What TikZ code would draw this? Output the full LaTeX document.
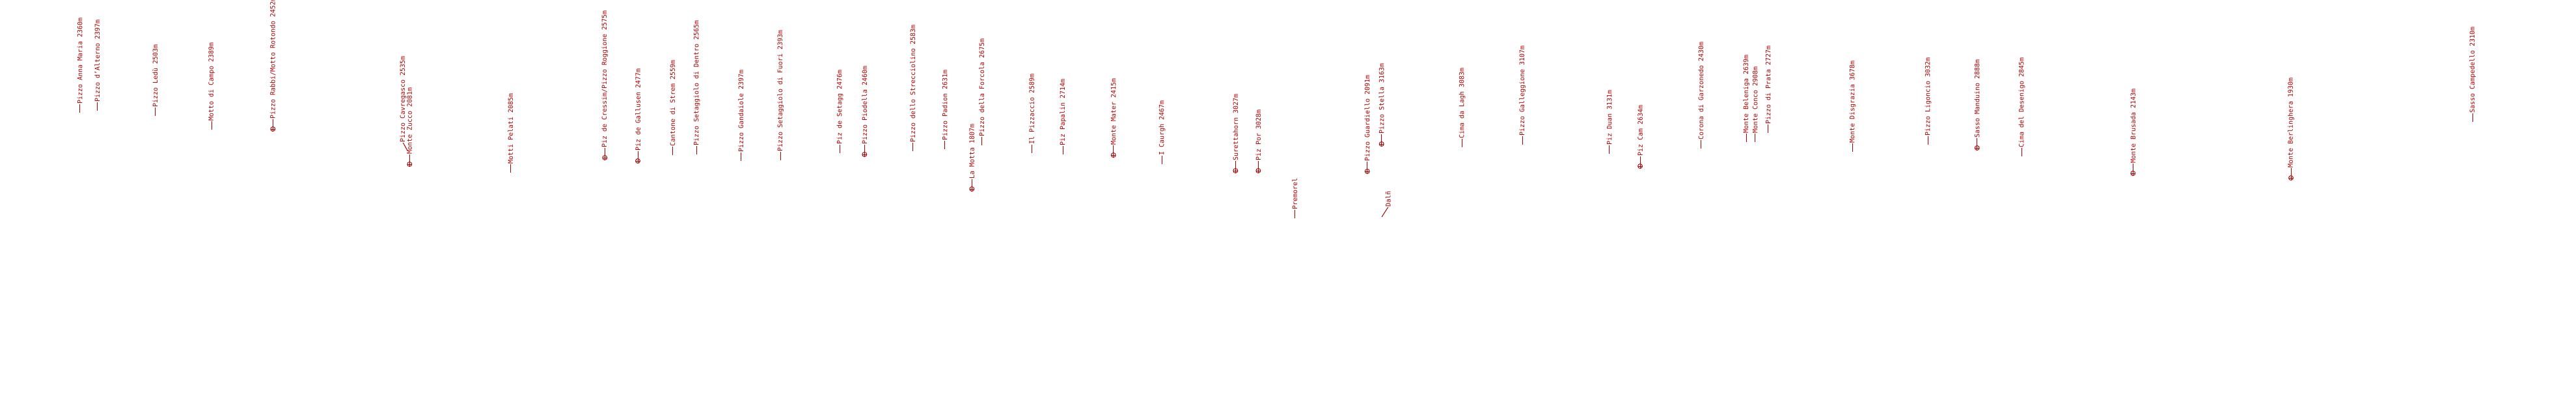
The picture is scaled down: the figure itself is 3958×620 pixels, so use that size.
\documentclass[tikz,border=0pt]{standalone}
\usepackage{fontspec}
\newfontfamily\peakfont{DejaVu Sans Mono}
\definecolor{PeakRed}{RGB}{170,0,0}
\tikzset{
  peaklabel/.style={rotate=90,anchor=west,inner sep=0pt,text=PeakRed,font=\peakfont\fontsize{10}{10}\selectfont},
  leader/.style={draw=PeakRed,line width=1pt},
  target/.style={circle,draw=PeakRed,line width=0.9pt,minimum size=7pt,inner sep=0pt,
    path picture={\draw[PeakRed,line width=0.8pt] (path picture bounding box.north) -- (path picture bounding box.south) (path picture bounding box.west) -- (path picture bounding box.east);}},
}
\begin{document}
\begin{tikzpicture}[x=1pt,y=-1pt]
\useasboundingbox (0,0) rectangle (3958,620);
% summits with a plain tick
\foreach \px/\py/\ptext [count=\i] in {122.7/173/{Pizzo Anna Maria 2360m},149.3/170/{Pizzo d’Alterno 2397m},238.3/178/{Pizzo Ledù 2503m},325/199/{Motto di Campo 2389m},
  784.3/265/{Motti Pelati 2085m},1033.3/238/{Cantone di Strem 2559m},1070.7/237/{Pizzo Setaggiolo di Dentro 2565m},1138.3/247/{Pizzo Gandaiole 2397m},
  1199.3/246/{Pizzo Setaggiolo di Fuori 2393m},1290.7/235/{Piz de Setagg 2476m},1402.3/232/{Pizzo dello Strecciolino 2583m},1451.7/229/{Pizzo Padion 2631m},
  1508.3/223/{Pizzo della Forcola 2675m},1585/235/{Il Pizzaccio 2589m},1633.3/237/{Piz Papalin 2714m},1785.7/252/{I Caurgh 2467m},1989.3/335/{Premorel},
  2246.7/226/{Cima da Lagh 3083m},2339.3/222/{Pizzo Galleggione 3107m},2472.7/236/{Piz Duan 3131m},2613.3/228/{Corona di Garzonedo 2430m},
  2683.3/218/{Monte Beleniga 2639m},2696.7/218/{Monte Conco 2908m},2716.7/204/{Pizzo di Prata 2727m},2846.7/233/{Monte Disgrazia 3678m},
  2962.7/222/{Pizzo Ligoncio 3032m},3106.7/240/{Cima del Desenigo 2845m},3799.3/187/{Sasso Campedello 2310m}}{
  \coordinate (base\i) at (\px,\py);
  \node[peaklabel] (peak\i) at (\px,\py-13) {\ptext};
  \draw[leader] (base\i) -- (peak\i.west);
}
% summits with a target mark
\foreach \px/\py/\ptext [count=\i] in {419.3/198/{Pizzo Rabbi/Motto Rotondo 2452m},629.3/252/{Monte Zucco 2081m},929.3/242/{Piz de Cressim/Pizzo Roggione 2575m},
  980/247/{Piz de Gallusen 2477m},1328.3/237/{Pizzo Piodella 2460m},1493.3/290/{La Motta 1807m},1710.7/238/{Monte Mater 2415m},
  1898.3/262/{Surettahorn 3027m},1933.3/262/{Piz Por 3028m},2100.7/263/{Pizzo Guardiello 2091m},2122.7/221/{Pizzo Stella 3163m},
  2520/255/{Piz Cam 2634m},3037.7/227/{Sasso Manduino 2888m},3277.3/266/{Monte Brusada 2143m},3520/273/{Monte Berlinghera 1930m}}{
  \node[target] (mark\i) at (\px,\py) {};
  \node[peaklabel] (marked\i) at (\px,\py-15) {\ptext};
  \draw[leader] (mark\i.north) -- (marked\i.west);
}
% labels pushed aside
\coordinate (cavbase) at (626,231);
\node[peaklabel] (cav) at (619.3,219) {Pizzo Cavregasco 2535m};
\draw[leader] (cavbase) -- (cav.west);
\coordinate (dalbase) at (2123,333);
\node[peaklabel] (dal) at (2132.7,318) {Dalñ};
\draw[leader] (dalbase) -- (dal.west);
\end{tikzpicture}
\end{document}
